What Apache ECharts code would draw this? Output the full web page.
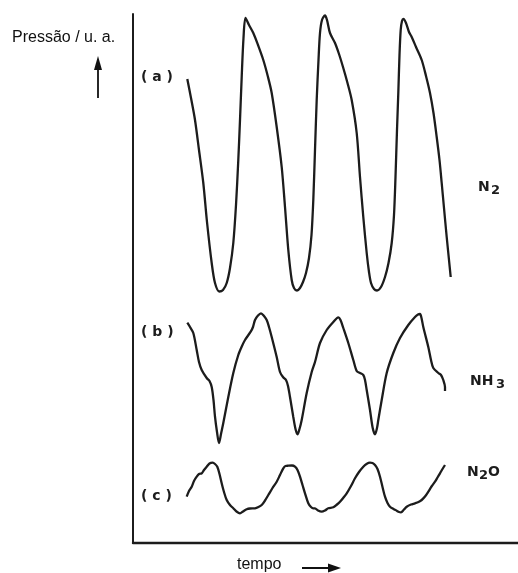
<!DOCTYPE html>
<html>
<head>
<meta charset="utf-8">
<script src="https://cdn.jsdelivr.net/npm/echarts@6/dist/echarts.min.js"></script>
<style>
  html, body { margin: 0; padding: 0; background: #fff; }
  #chart { width: 518px; height: 573px; }
</style>
</head>
<body>
<div id="chart"></div>
<script>
// Pressure traces (arbitrary units) against time (arbitrary units)
// (a) N2
const timeA = [54.3,58,62,66,70.3,74,78.7,82,86.3,90,93.7,97,100.3,103,105.3,107,108.7,110.5,112.5,116,120.3,125,130.3,135,138.7,143.7,148.7,152,155.3,158.7,161,164,167,170,173,176,178.5,180.3,182,183.7,185.5,187,189,192,194,197,202,206,210,214.5,218.7,223.7,227,230.3,233.7,236,238,241,244,248,252,255.5,258.7,261,262.5,264,265.3,266.5,267.7,269,270.5,273,276,278.7,283,288.7,293,297,300.5,303.7,306.5,308.7,311,313.7,316,317.7];
const presA = [464,445,423,393,360,321,280,260,251.5,253,260,275,300,338,383,423,466,505,525,518,510,498,483,466,450,416,376,336,293,263,255,252.5,255,261,270,285,308,343,393,443,483,510,523,527.5,523,510,500,489,476,460,443,410,366,326,290,271,260,254,252.5,256,266,280,300,328,366,413,450,488,513,522,524,520,511,506,496,483,467,450,430,406,383,360,335,306,283,266];

// (b) NH3
const timeB = [54.3,57,60.3,63.7,66,68.7,73.7,76.5,78.7,80.5,82,84,86,88,90.3,95.3,100.3,105.3,109,112,117.7,120,122,125,128,131,133.7,136,138.7,143.7,147,150,153,155,157,160.3,162.5,164.5,166.5,168.7,173.7,178.7,182,187,193.7,200.3,205.3,207.5,210.3,215.3,220.3,223.7,227,230.3,232,233.7,237,239.7,242,244,245.3,248.7,253.7,260.3,267,275.3,282,285,287,288.5,290.3,295.3,298,300.3,305.3,308,310.3,312,312];
const presB = [220.3,216,210,193,181,173,165,162,156,143,126.3,111,100,109,120,146,170,188,197,203,211.3,216,223,227.5,229.7,227,223,216,206,186,171,166,163,157,146,126,114,108.7,114,123,150,171,181,200,213,221,225.7,223,215,200,183,172,170,168,163,153,133,115,108.7,115,123,143,170,190,205,218,226,228.5,229,225,216,196,183,175,170,168,163,156,152];

// (c) N2O
const timeC = [53.7,56,58.7,61,63.7,66,68.7,71,73.7,76.5,79.7,82,84.3,86.5,88.7,91,93.7,97,100.3,103.5,107,110,113.7,117,122,125.5,128.7,132,135.3,139.5,143.7,147,150.3,152.5,155.3,159,162,164.5,167,169.5,172,175.3,178,180.3,182,185,188.7,192,195.3,200.3,204,207,210.5,213.7,218,222,226,230.3,233.5,237,239.5,242,244.5,247,249.5,252,254.5,257,260.5,263.7,266,268,271,273.7,278,282,285.5,288.7,292,295.3,298.5,302,304.5,307,309.5,312];
const presC = [46.3,52,56.3,62,66.3,69,69.7,73,76.3,79.5,80.3,79,76.3,69,59.7,51,43,38,34.7,31.5,29.7,31.5,33.7,34.5,34.7,36,38,42.5,48,55,61.3,68,74.7,77,77.3,77.5,76.3,73,66.3,58,49.7,39.7,36,34.7,34.7,32.5,31.3,32.5,34.7,35.7,38.5,41.3,45.5,49.7,57,64.7,71,76.3,79,80.3,80,78,74,66.3,56,46.3,40,36.3,34,32.3,31,30.7,33.5,36.3,38.5,39.7,41,43,46.5,51.3,56.5,61.3,65.5,69.7,74,78];

const tags = ['( a )', '( b )', '( c )'];
const yTitle = 'Pressão / u. a.';
const xTitle = 'tempo';

const pairs = (t, p) => t.map((v, i) => [v, p[i]]);

const chart = echarts.init(document.getElementById('chart'), null, { renderer: 'canvas' });

const ink = '#1c1c1c';
const traceStyle = { color: ink, width: 2.3 };
const tagFont = { fontFamily: 'DejaVu Sans', fontWeight: 'bold', fontSize: 14, fill: ink };
const gasFont = { fontFamily: 'DejaVu Sans', fontWeight: 'bold', fontSize: 14, fill: ink };

function gas(parts, x, y) {
  // parts: [text, isSubscript, advance]
  let cx = x;
  return parts.map(([txt, sub, w]) => {
    const el = {
      type: 'text', left: cx, top: sub ? y + 4 : y,
      style: Object.assign({ text: txt }, gasFont, sub ? { fontSize: 13 } : {})
    };
    cx += w;
    return el;
  });
}

chart.setOption({
  animation: false,
  backgroundColor: '#fff',
  grid: { left: 133, top: 14, right: 0, bottom: 30 },
  xAxis: {
    type: 'value', min: 0, max: 385,
    axisLine: { show: true, lineStyle: { color: ink, width: 2.4 } },
    axisTick: { show: false }, axisLabel: { show: false }, splitLine: { show: false }
  },
  yAxis: {
    type: 'value', min: 0, max: 529,
    axisLine: { show: true, lineStyle: { color: ink, width: 2 } },
    axisTick: { show: false }, axisLabel: { show: false }, splitLine: { show: false }
  },
  series: [
    { name: 'N2', type: 'line', data: pairs(timeA, presA), smooth: 0.3, showSymbol: false, lineStyle: traceStyle },
    { name: 'NH3', type: 'line', data: pairs(timeB, presB), smooth: 0.3, showSymbol: false, lineStyle: traceStyle },
    { name: 'N2O', type: 'line', data: pairs(timeC, presC), smooth: 0.3, showSymbol: false, lineStyle: traceStyle }
  ],
  graphic: [
    { type: 'text', left: 12, top: 30, style: { text: yTitle, fontFamily: 'Liberation Sans', fontSize: 16, fill: '#111' } },
    { type: 'line', shape: { x1: 98, y1: 98, x2: 98, y2: 66 }, style: { stroke: '#111', lineWidth: 1.8 } },
    { type: 'polygon', shape: { points: [[98, 56], [94, 70], [102, 70]] }, style: { fill: '#111' } },
    { type: 'text', left: 237, top: 557, style: { text: xTitle, fontFamily: 'Liberation Sans', fontSize: 16, fill: '#111' } },
    { type: 'line', shape: { x1: 302, y1: 568, x2: 331, y2: 568 }, style: { stroke: '#111', lineWidth: 2 } },
    { type: 'polygon', shape: { points: [[341, 568], [328, 563.5], [328, 572.5]] }, style: { fill: '#111' } },
    { type: 'text', left: 141, top: 70, style: Object.assign({ text: tags[0] }, tagFont) },
    { type: 'text', left: 141, top: 325, style: Object.assign({ text: tags[1] }, tagFont) },
    { type: 'text', left: 141, top: 489, style: Object.assign({ text: tags[2] }, tagFont) },
    ...gas([['N', false, 13], ['2', true, 9]], 478, 180),
    ...gas([['NH', false, 26], ['3', true, 9]], 470, 374),
    ...gas([['N', false, 12], ['2', true, 9], ['O', false, 12]], 467, 465)
  ]
});
</script>
</body>
</html>
